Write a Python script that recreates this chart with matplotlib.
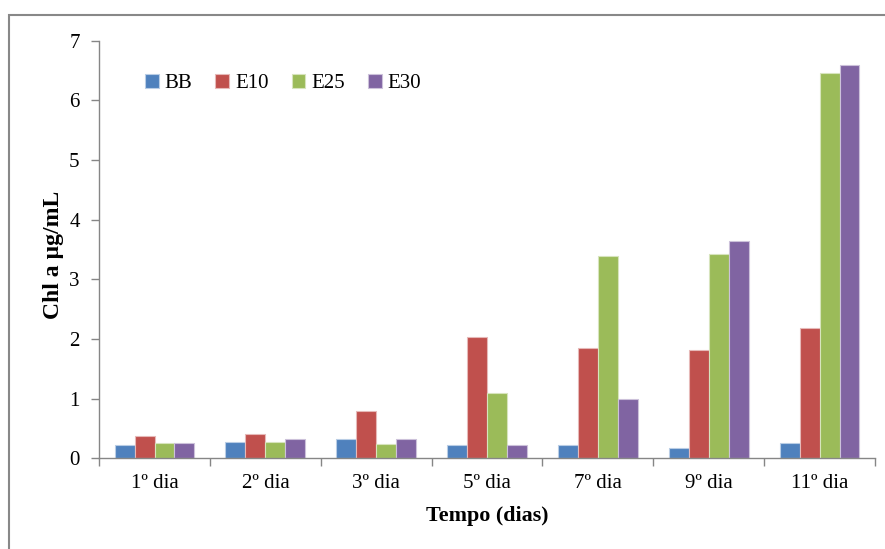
import numpy as np
import matplotlib.pyplot as plt
from matplotlib.patches import Rectangle

plt.rcParams['font.family'] = ['Liberation Serif', 'DejaVu Serif']

# Data
dias = ['1º dia', '2º dia', '3º dia', '5º dia', '7º dia', '9º dia', '11º dia']
series = ['BB', 'E10', 'E25', 'E30']
bb = [0.22, 0.28, 0.33, 0.22, 0.22, 0.17, 0.26]
e10 = [0.38, 0.40, 0.80, 2.03, 1.85, 1.81, 2.18]
e25 = [0.26, 0.28, 0.24, 1.10, 3.39, 3.42, 6.46]
e30 = [0.26, 0.33, 0.32, 0.22, 0.99, 3.64, 6.60]
colors = ['#4F81BD', '#C0504D', '#9BBB59', '#8064A2']
edges = ['#B9CDE5', '#E6B9B8', '#D7E4BD', '#CCC1DA']

fig = plt.figure(figsize=(8.85, 5.49), dpi=100)
ax = fig.add_axes([0.112, 0.1652, 0.8767, 0.7607])

x = np.arange(len(dias))
w = 0.18
for i, (vals, c, ec, name) in enumerate(zip([bb, e10, e25, e30], colors, edges, series)):
    ax.bar(x + (i - 1.5) * w, vals, width=w, color=c, edgecolor=ec, linewidth=0.8, label=name)

axis_col = '#868686'
ax.set_xlim(-0.5, len(dias) - 0.5)
ax.set_ylim(0, 7)
ax.set_yticks(range(0, 8))
ax.set_xticks(x)
ax.set_xticklabels(dias)
ax.set_xticks(np.arange(-0.5, len(dias)), minor=True)
ax.tick_params(axis='x', which='major', length=0, labelsize=15, pad=11)
ax.tick_params(axis='x', which='minor', length=6, color=axis_col, width=1)
ax.tick_params(axis='y', length=6, color=axis_col, width=1, labelsize=15, pad=8)
for s in ['top', 'right']:
    ax.spines[s].set_visible(False)
for s in ['left', 'bottom']:
    ax.spines[s].set_color(axis_col)
    ax.spines[s].set_linewidth(1)

ax.set_xlabel('Tempo (dias)', fontsize=15.8, fontweight='bold', labelpad=10)
ax.set_ylabel('Chl a µg/mL', fontsize=17, fontweight='bold')
ax.yaxis.set_label_coords(-0.045, 0.487)

ax.legend(loc='upper left', bbox_to_anchor=(0.035, 0.965), ncol=4, frameon=False,
          fontsize=15, handlelength=0.65, handleheight=0.65, handletextpad=0.3,
          columnspacing=1.1)

# chart border
fig.patches.append(Rectangle((9 / 885, -0.05), 1.2, 1 - 15 / 549 + 0.05,
                             transform=fig.transFigure, fill=False,
                             edgecolor='#888888', linewidth=1.5))

fig.savefig('out.png', dpi=100)
